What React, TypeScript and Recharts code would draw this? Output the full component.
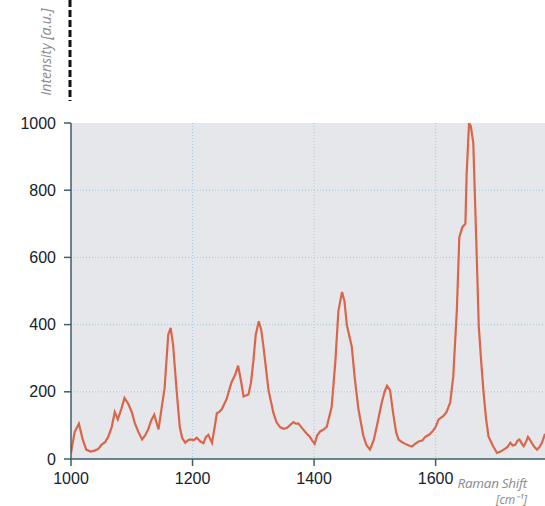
import { LineChart, Line, XAxis, YAxis, CartesianGrid } from "recharts";

// Raman spectrum
const shifts = [
  1000, 1006, 1013, 1019, 1025, 1032, 1039, 1045, 1050, 1056, 1061, 1067, 1072, 1077, 1083, 1088,
  1094, 1100, 1105, 1111, 1117, 1122, 1127, 1132, 1137, 1144, 1149, 1154, 1160, 1164, 1168, 1174,
  1179, 1183, 1188, 1192, 1196, 1202, 1207, 1213, 1218, 1222, 1226, 1232, 1236, 1240, 1244, 1248,
  1256, 1264, 1270, 1275, 1280, 1284, 1292, 1296, 1300, 1304, 1309, 1313, 1317, 1325, 1333, 1338,
  1344, 1350, 1355, 1360, 1366, 1370, 1374, 1382, 1388, 1393, 1397, 1401, 1405, 1410, 1416, 1421,
  1429, 1435, 1440, 1446, 1450, 1454, 1462, 1467, 1473, 1481, 1486, 1492, 1498, 1503, 1511, 1516,
  1520, 1525, 1530, 1535, 1539, 1545, 1550, 1556, 1561, 1566, 1572, 1578, 1583, 1589, 1594, 1600,
  1605, 1613, 1618, 1624, 1629, 1635, 1639, 1644, 1649, 1651, 1655, 1658, 1662, 1667, 1671, 1675,
  1679, 1683, 1687, 1694, 1701, 1707, 1712, 1718, 1723, 1727, 1731, 1735, 1738, 1742, 1745, 1749,
  1752, 1756, 1759, 1763, 1767, 1771, 1775, 1780,
];
const intensity = [
  18, 80, 105, 60, 28, 22, 25, 30, 42, 50, 65, 95, 140, 118, 150, 182,
  165, 140, 107, 80, 58, 70, 88, 115, 132, 88, 150, 210, 370, 390, 340, 200,
  95, 62, 48, 55, 58, 56, 63, 52, 47, 65, 72, 48, 90, 136, 140, 148,
  178, 228, 250, 278, 230, 186, 192, 225, 290, 370, 410, 385, 330, 205, 138, 110,
  95, 90, 92, 100, 110, 105, 106, 88, 75, 66, 55, 45, 70, 82, 88, 96,
  156, 290, 440, 497, 470, 398, 335, 240, 148, 70, 42, 28, 55, 95, 165, 200,
  218, 205, 138, 80, 58, 50, 45, 40, 37, 45, 52, 55, 66, 72, 80, 95,
  118, 128, 140, 168, 245, 445, 660, 690, 700, 845, 1000, 990, 940, 645, 395, 290,
  196, 120, 67, 40, 18, 22, 28, 35, 48, 40, 42, 55, 58, 45, 38, 52,
  66, 55, 46, 35, 28, 36, 48, 75,
];
const xTicks = [1000, 1200, 1400, 1600];
const yTicks = [0, 200, 400, 600, 800, 1000];

const data = shifts.map((s, i) => ({ shift: s, value: intensity[i] }));

const AXIS = "#3d5f68";
const tickStyle = { fill: "#15222c", fontSize: 16, fontFamily: "Liberation Sans, Arial, sans-serif" };
const labelFont = "'Open Sans', sans-serif";

export default function App() {
  return (
    <div style={{ position: "relative", width: 545, height: 506, overflow: "hidden", background: "#fff" }}>
      <style>{"body{margin:0}"}</style>
      <LineChart
        width={545}
        height={506}
        data={data}
        margin={{ top: 123, right: 0, left: 0, bottom: 17 }}
      >
        <CartesianGrid
          fill="#e6e7ea"
          fillOpacity={1}
          stroke="#9fcbe0"
          strokeDasharray="1 2"
          horizontalValues={[200, 400, 600, 800]}
          verticalValues={[1200, 1400, 1600]}
        />
        <XAxis
          dataKey="shift"
          type="number"
          domain={[1000, 1780]}
          ticks={xTicks}
          height={30}
          allowDataOverflow
          stroke={AXIS}
          strokeWidth={1.5}
          tickSize={7}
          tick={{ ...tickStyle, dy: 5 }}
        />
        <YAxis
          type="number"
          domain={[0, 1000]}
          ticks={yTicks}
          width={71}
          allowDataOverflow
          stroke={AXIS}
          strokeWidth={1.5}
          tickSize={7}
          tick={{ ...tickStyle, dx: -6 }}
        />
        <Line
          type="linear"
          dataKey="value"
          stroke="#d9664b"
          strokeWidth={2.2}
          dot={false}
          isAnimationActive={false}
        />
      </LineChart>
      <svg
        width={545}
        height={506}
        style={{ position: "absolute", left: 0, top: 0, pointerEvents: "none" }}
      >
        <line x1={70} y1={0} x2={70} y2={101} stroke="#111" strokeWidth={3} strokeDasharray="7 3" />
        <text
          transform="translate(51, 52) rotate(-90)"
          textAnchor="middle"
          fontFamily={labelFont}
          fontStyle="italic"
          fontSize={14}
          fill="#8a8a8a"
        >
          Intensity [a.u.]
        </text>
        <text
          x={527}
          y={488}
          textAnchor="end"
          fontFamily={labelFont}
          fontStyle="italic"
          fontSize={13.5}
          letterSpacing={-0.3}
          fill="#8a8a8a"
        >
          Raman Shift
        </text>
        <text
          x={527}
          y={504}
          textAnchor="end"
          fontFamily={labelFont}
          fontStyle="italic"
          fontSize={12}
          fill="#8a8a8a"
        >
          [cm⁻¹]
        </text>
      </svg>
    </div>
  );
}
